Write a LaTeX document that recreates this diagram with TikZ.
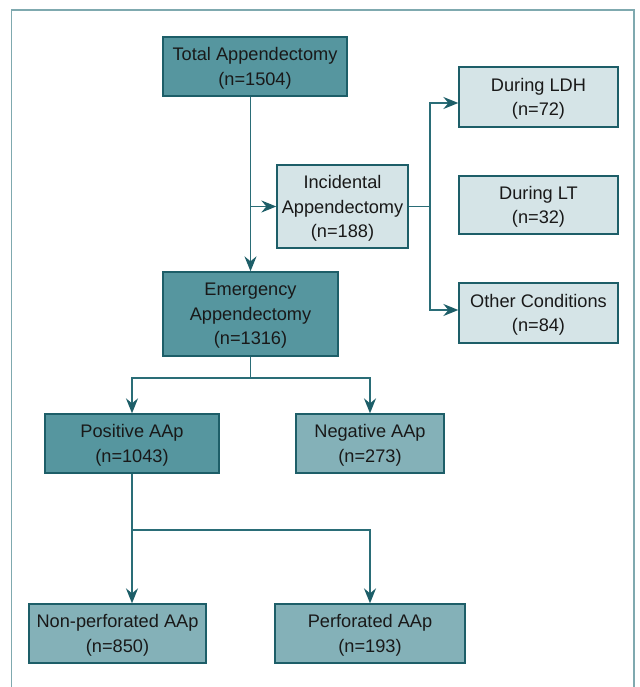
\documentclass[tikz,border=0pt]{standalone}
\usepackage{fontspec}
\setmainfont{Liberation Sans}
\usepackage{tikz}
\usetikzlibrary{arrows.meta}
\definecolor{tealdark}{HTML}{56969F}
\definecolor{tealmid}{HTML}{84B1B8}
\definecolor{teallight}{HTML}{D5E4E7}
\definecolor{tealedge}{HTML}{1D5E68}
\definecolor{tealline}{HTML}{2A6D77}
\definecolor{tealframe}{HTML}{7FA9AF}
\tikzset{
  apbox/.style={
    draw=tealedge, line width=1.3pt, align=center, text=black!90,
    font=\fontsize{18.2pt}{24.5pt}\selectfont, text depth=0pt,
    inner sep=2pt, minimum height=59pt},
  apbox_dark/.style={apbox, fill=tealdark},
  apbox_mid/.style={apbox, fill=tealmid},
  apbox_light/.style={apbox, fill=teallight},
  apline/.style={line width=1.6pt, color=tealline},
  aparrow/.style={
    apline, -{Stealth[length=15pt, width=12pt, inset=5pt, color=tealedge]}},
}

\begin{document}
\begin{tikzpicture}[x=1pt, y=-1pt]
  \useasboundingbox (0,0) rectangle (639,687);
  \draw[tealframe, line width=1.5pt] (11.5,700) -- (11.5,10) -- (634,10) -- (634,700);

  \node[apbox_dark, minimum width=184pt]                    (tot)  at (255,66.5)  {Total Appendectomy\\(n=1504)};
  \node[apbox_light, minimum width=131pt, minimum height=83pt] (inc) at (342.5,206.5) {Incidental\\Appendectomy\\(n=188)};
  \node[apbox_dark, minimum width=175pt, minimum height=84pt]  (em)  at (250.5,314) {Emergency\\Appendectomy\\(n=1316)};
  \node[apbox_light, minimum width=159pt, minimum height=60pt] (ldh) at (538.5,97)  {During LDH\\(n=72)};
  \node[apbox_light, minimum width=159pt, minimum height=58pt] (lt)  at (538.5,205) {During LT\\(n=32)};
  \node[apbox_light, minimum width=159pt, minimum height=60pt] (oth) at (538.5,313) {Other Conditions\\(n=84)};
  \node[apbox_dark, minimum width=174pt]                    (pos)  at (132,443.5)  {Positive AAp\\(n=1043)};
  \node[apbox_mid, minimum width=148pt]                     (neg)  at (370,443.5)  {Negative AAp\\(n=273)};
  \node[apbox_mid, minimum width=177pt]                     (nonp) at (117.5,633.5) {Non-perforated AAp\\(n=850)};
  \node[apbox_mid, minimum width=190pt]                     (perf) at (370,633.5)  {Perforated AAp\\(n=193)};

  % splitting points
  \coordinate (incsplit) at (430,206.5);
  \coordinate (emsplit)  at (250.5,378);
  \coordinate (possplit) at (132,530);

  \draw[aparrow] (em.north |- tot.south) -- (em.north);
  \draw[aparrow] (em.north |- inc.west) -- (inc.west);
  \draw[apline]  (inc.east) -- (incsplit);
  \draw[aparrow] (incsplit) |- ([yshift=-6pt]ldh.west);
  \draw[aparrow] (incsplit) |- ([yshift=3pt]oth.west);
  \draw[apline]  (em.south) -- (emsplit);
  \draw[aparrow] (emsplit) -| (pos.north);
  \draw[aparrow] (emsplit) -| (neg.north);
  \draw[apline]  (pos.south) -- (possplit);
  \draw[aparrow] (possplit) -- (possplit |- nonp.north);
  \draw[aparrow] (possplit) -| (perf.north);
\end{tikzpicture}
\end{document}
